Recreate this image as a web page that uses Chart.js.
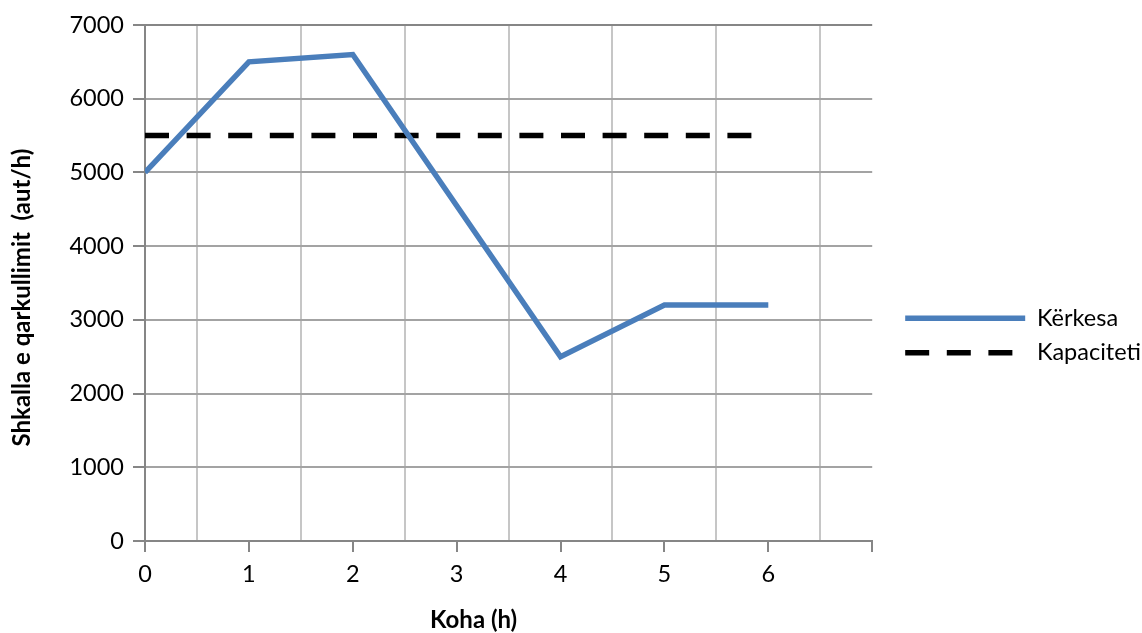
<!DOCTYPE html>
<html>
<head>
<meta charset="utf-8">
<script src="https://cdn.jsdelivr.net/npm/chart.js@4"></script>
<style>
  html, body { margin: 0; padding: 0; background: #fff; }
  #wrap { width: 1142px; height: 633px; }
</style>
</head>
<body>
<div id="wrap"><canvas id="c" width="1142" height="633"></canvas></div>
<script>
// Hours and the two series (vehicles per hour)
const hours = [0, 1, 2, 3, 4, 5, 6];
const demand = [5000, 6500, 6600, null, 2500, 3200, 3200];
const capacity = [5500, 5500, 5500, 5500, 5500, 5500, 5500];
const seriesNames = ['Kërkesa', 'Kapaciteti'];
const xTitle = 'Koha (h)';
const yTitle = 'Shkalla e qarkullimit  (aut/h)';

const toPoints = (xs, ys) => xs.map((x, i) => ({ x, y: ys[i] })).filter(p => p.y !== null);
const nbsp = n => '\u00a0'.repeat(n);

const FONT = 'Lato';
const AXIS = '#868686';
const GRID_H = '#a3a3a3';
const GRID_V = '#c6c6c6';

// legend samples follow each dataset's own line style (width, colour, dashes)
const legendLabels = chart =>
  Chart.defaults.plugins.legend.labels.generateLabels(chart).map(item => {
    const ds = chart.data.datasets[item.datasetIndex];
    item.lineDash = ds.borderDash || [];
    item.lineWidth = ds.borderWidth;
    item.strokeStyle = ds.borderColor;
    return item;
  });

new Chart(document.getElementById('c'), {
  type: 'line',
  data: {
    datasets: [
      {
        label: seriesNames[0],
        data: toPoints(hours, demand),
        borderColor: '#4a7ebb',
        backgroundColor: '#4a7ebb',
        borderWidth: 5.5,
        pointRadius: 0,
        tension: 0,
        spanGaps: true
      },
      {
        label: seriesNames[1],
        data: toPoints(hours, capacity),
        borderColor: '#000',
        backgroundColor: '#000',
        borderWidth: 5.5,
        borderDash: [24, 17.6],
        pointRadius: 0,
        tension: 0
      }
    ]
  },
  options: {
    responsive: false,
    animation: false,
    layout: { padding: { top: 25, left: 0, right: -9, bottom: 0 } },
    plugins: {
      tooltip: { enabled: false },
      legend: {
        position: 'right',
        align: 'center',
        maxWidth: 400,
        title: { display: true, text: '', font: { size: 10 }, padding: { top: 1, bottom: 0 } },
        labels: {
          usePointStyle: true,
          pointStyle: 'line',
          pointStyleWidth: 120,
          padding: 11,
          color: '#000',
          font: { family: FONT, size: 23.5 },
          generateLabels: legendLabels
        }
      }
    },
    scales: {
      x: {
        type: 'linear',
        min: 0,
        max: 7,
        afterFit: s => { s.height = 92; },
        ticks: {
          stepSize: 0.5,
          autoSkip: false,
          maxRotation: 0,
          padding: 8,
          color: '#000',
          font: { family: FONT, size: 23.5 },
          callback: v => (Number.isInteger(v) && v < 7 ? String(v) : '')
        },
        grid: {
          color: c => (c.tick && !Number.isInteger(c.tick.value) ? GRID_V : 'rgba(0,0,0,0)'),
          tickColor: c => (c.tick && Number.isInteger(c.tick.value) ? AXIS : 'rgba(0,0,0,0)'),
          lineWidth: 2,
          tickLength: 11
        },
        border: { color: AXIS, width: 2 },
        title: {
          display: true,
          text: xTitle + nbsp(12),
          color: '#000',
          font: { family: FONT, size: 24, weight: 'bold' },
          padding: { top: 4, bottom: -2 }
        }
      },
      y: {
        min: 0,
        max: 7000,
        afterFit: s => { s.width = 145; },
        ticks: {
          stepSize: 1000,
          padding: 9,
          color: '#000',
          font: { family: FONT, size: 23.5 },
          callback: v => String(v)
        },
        grid: {
          color: c => (c.tick && c.tick.value === 7000 ? AXIS : GRID_H),
          tickColor: AXIS,
          lineWidth: 2,
          tickLength: 12
        },
        border: { color: AXIS, width: 2 },
        title: {
          display: true,
          text: yTitle + nbsp(5),
          color: '#000',
          font: { family: FONT, size: 24, weight: 'bold' },
          padding: { top: 8, bottom: 0 }
        }
      },
      // empty right-hand axis that keeps a margin between the plot and the legend
      gap: {
        type: 'linear',
        position: 'right',
        display: true,
        afterFit: s => { s.width = 22; },
        ticks: { display: false },
        grid: { display: false, drawTicks: false },
        border: { display: false }
      }
    }
  }
});
</script>
</body>
</html>
